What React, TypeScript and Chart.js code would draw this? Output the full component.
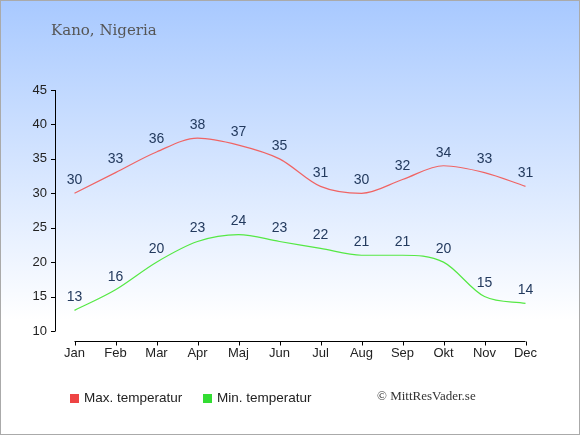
import { useEffect, useRef } from "react"
import { Chart, registerables, type ChartConfiguration, type Plugin } from "chart.js"

Chart.register(...registerables)

const months = ["Jan", "Feb", "Mar", "Apr", "Maj", "Jun", "Jul", "Aug", "Sep", "Okt", "Nov", "Dec"]
const maxTemp = [30, 33, 36, 38, 37, 35, 31, 30, 32, 34, 33, 31]
const minTemp = [13, 16, 20, 23, 24, 23, 22, 21, 21, 20, 15, 14]
const yTicks = [10, 15, 20, 25, 30, 35, 40, 45]

const W = 580
const H = 435
const SANS = "'Liberation Sans', Arial, sans-serif"
const SERIF = "'DejaVu Serif', serif"
const TIMES = "'Liberation Serif', 'Times New Roman', serif"
const Y_AXIS_X = 55.5

// background, frame, axes, value labels, legend and credit
const decorPlugin: Plugin<"line"> = {
  id: "decor",
  beforeDraw(chart) {
    const ctx = chart.ctx
    ctx.save()
    const g = ctx.createLinearGradient(0, 0, 0, 320)
    g.addColorStop(0, "#a8c9ff")
    g.addColorStop(1, "#ffffff")
    ctx.fillStyle = g
    ctx.fillRect(0, 0, W, H)
    ctx.strokeStyle = "#aaaaaa"
    ctx.lineWidth = 1
    ctx.strokeRect(0.5, 0.5, W - 1, H - 1)

    ctx.fillStyle = "#555555"
    ctx.font = `15px ${SERIF}`
    ctx.textBaseline = "middle"
    ctx.textAlign = "left"
    ctx.fillText("Kano, Nigeria", 51, 31)
    ctx.restore()
  },
  afterDraw(chart) {
    const ctx = chart.ctx
    const x = chart.scales.x
    const y = chart.scales.y
    const area = chart.chartArea
    ctx.save()
    ctx.strokeStyle = "#000000"
    ctx.lineWidth = 1

    // y axis
    ctx.beginPath()
    ctx.moveTo(Y_AXIS_X, y.getPixelForValue(45))
    ctx.lineTo(Y_AXIS_X, y.getPixelForValue(10))
    yTicks.forEach((t) => {
      const py = Math.round(y.getPixelForValue(t)) + 0.5
      ctx.moveTo(Y_AXIS_X - 4.5, py)
      ctx.lineTo(Y_AXIS_X, py)
    })
    ctx.stroke()

    // x axis, drawn a little below the plot
    const ax = area.bottom + 10.5
    ctx.beginPath()
    ctx.moveTo(x.getPixelForValue(0), ax)
    ctx.lineTo(x.getPixelForValue(months.length - 1), ax)
    months.forEach((_, i) => {
      const px = Math.round(x.getPixelForValue(i)) + 0.5
      ctx.moveTo(px, ax)
      ctx.lineTo(px, ax + 4)
    })
    ctx.stroke()

    // value labels
    ctx.font = `14px ${SANS}`
    ctx.fillStyle = "#233a5e"
    ctx.textAlign = "center"
    ctx.textBaseline = "middle"
    chart.data.datasets.forEach((ds, di) => {
      const meta = chart.getDatasetMeta(di)
      meta.data.forEach((pt, i) => {
        ctx.fillText(String(ds.data[i]), pt.x, pt.y - 13)
      })
    })

    // legend
    const legend = [
      { label: "Max. temperatur", color: "#ee4444", x: 70 },
      { label: "Min. temperatur", color: "#33dd33", x: 203 },
    ]
    ctx.font = `13.5px ${SANS}`
    ctx.textAlign = "left"
    legend.forEach((l) => {
      ctx.fillStyle = l.color
      ctx.fillRect(l.x, 394, 9, 9)
      ctx.fillStyle = "#222222"
      ctx.fillText(l.label, l.x + 14, 398)
    })

    ctx.fillStyle = "#333333"
    ctx.font = `13px ${TIMES}`
    ctx.fillText("© MittResVader.se", 377, 397)
    ctx.restore()
  },
}

function TempChart() {
  const chartRef = useRef<HTMLCanvasElement>(null)
  const chartInstance = useRef<Chart | null>(null)

  useEffect(() => {
    if (!chartRef.current) return
    if (chartInstance.current) chartInstance.current.destroy()

    const config: ChartConfiguration<"line"> = {
      type: "line",
      data: {
        labels: months,
        datasets: [
          {
            label: "Max. temperatur",
            data: maxTemp,
            borderColor: "#f06464",
            borderWidth: 1.2,
            pointRadius: 0,
            cubicInterpolationMode: "monotone",
          },
          {
            label: "Min. temperatur",
            data: minTemp,
            borderColor: "#55e844",
            borderWidth: 1.2,
            pointRadius: 0,
            cubicInterpolationMode: "monotone",
          },
        ],
      },
      options: {
        responsive: false,
        animation: false,
        layout: { padding: { top: 90, right: 34, bottom: 0, left: 0 } },
        plugins: {
          legend: { display: false },
          tooltip: { enabled: false },
        },
        scales: {
          x: {
            offset: true,
            grid: { display: false, drawTicks: false },
            border: { display: false },
            ticks: {
              color: "#222222",
              font: { family: SANS, size: 13 },
              padding: 15,
              maxRotation: 0,
            },
            afterFit: (scale) => {
              scale.height = 104
            },
          },
          y: {
            min: 10,
            max: 45,
            grid: { display: false, drawTicks: false },
            border: { display: false },
            ticks: {
              stepSize: 5,
              color: "#222222",
              font: { family: SANS, size: 13 },
              padding: 7,
            },
            afterFit: (scale) => {
              scale.width = 54
            },
          },
        },
      },
      plugins: [decorPlugin],
    }

    chartInstance.current = new Chart(chartRef.current, config)

    return () => {
      if (chartInstance.current) {
        chartInstance.current.destroy()
        chartInstance.current = null
      }
    }
  }, [])

  return (
    <div style={{ position: "fixed", left: 0, top: 0, width: W, height: H }}>
      <canvas ref={chartRef} width={W} height={H}></canvas>
    </div>
  )
}

export default function App() {
  return <TempChart />
}
